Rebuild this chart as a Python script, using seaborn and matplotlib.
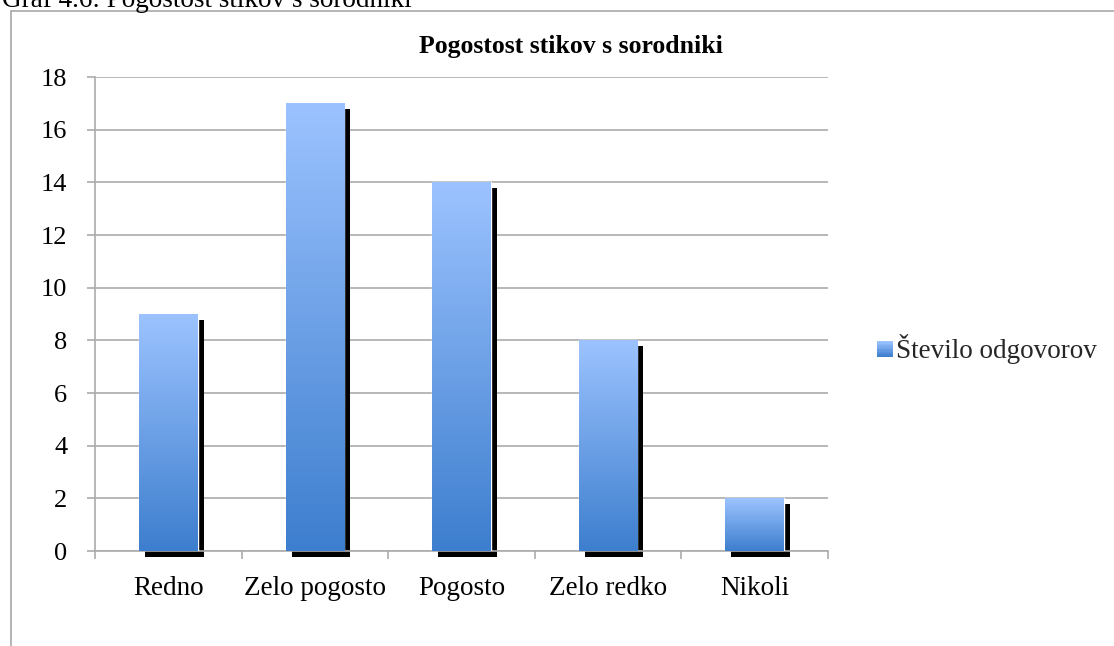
import numpy as np
import pandas as pd
import matplotlib
matplotlib.use("Agg")
import matplotlib.pyplot as plt
import matplotlib.transforms as mtransforms
from matplotlib.patches import Rectangle
from matplotlib.legend_handler import HandlerBase
import seaborn as sns

categories = ["Redno", "Zelo pogosto", "Pogosto", "Zelo redko", "Nikoli"]
values = [9, 17, 14, 8, 2]
series_name = "Število odgovorov"
y_ticks = [0, 2, 4, 6, 8, 10, 12, 14, 16, 18]
chart_title = "Pogostost stikov s sorodniki"
caption = "Graf 4.6: Pogostost stikov s sorodniki"

df = pd.DataFrame({"kategorija": categories, "odgovori": values})

sns.set_theme(style="white")
plt.rcParams["font.family"] = ["Liberation Serif", "DejaVu Serif"]

W, H = 1114, 646
fig = plt.figure(figsize=(W / 100, H / 100), dpi=100)
ax = fig.add_axes([95 / W, 1 - 551 / H, (828 - 95) / W, (551 - 77) / H])

sns.barplot(data=df, x="kategorija", y="odgovori", ax=ax, width=0.4,
            color="#6B9BE6", saturation=1, zorder=3)

top_c = np.array([0x9C, 0xC3, 0xFF]) / 255
bot_c = np.array([0x3D, 0x7E, 0xCE]) / 255
grad = np.linspace(0, 1, 256)[:, None]
grad_img = (top_c[None, None, :] * (1 - grad[:, :, None]) +
            bot_c[None, None, :] * grad[:, :, None])

for p in list(ax.patches):
    x0, y0 = p.get_x(), p.get_y()
    w, h = p.get_width(), p.get_height()
    # drop shadow, offset right and down
    shadow_tr = mtransforms.offset_copy(ax.transData, fig=fig, x=4.3, y=-4.3, units="points")
    ax.add_patch(Rectangle((x0, y0), w, h, transform=shadow_tr,
                           facecolor="black", edgecolor="none", zorder=2, clip_on=False))
    # vertical gradient fill
    p.set_facecolor("none")
    im = ax.imshow(grad_img, extent=(x0, x0 + w, y0, y0 + h), aspect="auto",
                   origin="upper", zorder=3.5, interpolation="bilinear")
    im.set_clip_path(p)

ax.set_xlim(-0.5, len(categories) - 0.5)
ax.set_ylim(0, 18)
ax.set_yticks(y_ticks)
ax.set_yticklabels([str(t) for t in y_ticks])
ax.set_xlabel("")
ax.set_ylabel("")

grid_c = "#ABABAB"
ax.yaxis.grid(True, color=grid_c, linewidth=1.2, zorder=0)
ax.set_axisbelow(True)
for s in ["top", "right"]:
    ax.spines[s].set_visible(False)
for s in ["left", "bottom"]:
    ax.spines[s].set_color(grid_c)
    ax.spines[s].set_linewidth(1.2)
    ax.spines[s].set_zorder(2.5)

# category boundary ticks on the x axis
ax.set_xticks(np.arange(len(categories) + 1) - 0.5, minor=True)
ax.tick_params(axis="x", which="major", length=0, labelsize=19.5, pad=18, colors="black")
ax.tick_params(axis="x", which="minor", length=6, width=1.2, color=grid_c, direction="out", bottom=True)
ax.tick_params(axis="y", length=6, width=1.2, color=grid_c, labelsize=19, pad=14, left=True, colors="black")
for lbl in ax.get_yticklabels() + ax.get_xticklabels():
    lbl.set_color("black")

fig.text(571 / W, 1 - 47 / H, chart_title, ha="center", va="center",
         fontsize=18.5, fontweight="bold", color="black")


class GradientHandler(HandlerBase):
    """Legend key drawn as a small square with the same vertical gradient as the bars."""

    def create_artists(self, legend, orig_handle, xdescent, ydescent, width, height, fontsize, trans):
        n = 12
        side = min(width, height)
        x = xdescent * -1 + (width - side) / 2
        y = -ydescent
        arts = []
        for i in range(n):
            t = i / (n - 1)
            c = bot_c * (1 - t) + top_c * t
            arts.append(Rectangle((x, y + side * i / n), side, side / n + 0.2,
                                  facecolor=c, edgecolor="none", transform=trans))
        return arts


handle = Rectangle((0, 0), 1, 1, facecolor="#6B9BE6", edgecolor="none")
fig.legend([handle], [series_name], loc="center left",
           bbox_to_anchor=(866 / W, 1 - 349 / H), frameon=False, fontsize=19.5,
           handlelength=0.6, handleheight=0.6, handletextpad=0.12, borderaxespad=0,
           handler_map={Rectangle: GradientHandler()})

# outer chart frame and caption
fig.add_artist(plt.Line2D([10.5 / W, 10.5 / W], [0, 1 - 10.5 / H], color="#A8A8A8", linewidth=1.2))
fig.add_artist(plt.Line2D([10.5 / W, 1], [1 - 10.5 / H, 1 - 10.5 / H], color="#A8A8A8", linewidth=1.2))
fig.text(2 / W, 1 - 7 / H, caption, ha="left", va="baseline", fontsize=19.5, color="black",
         family=["Liberation Serif"])

fig.savefig("out.png", dpi=100, facecolor="white")
